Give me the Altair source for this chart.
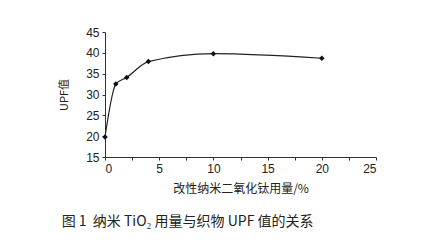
import altair as alt
import pandas as pd

dose = [0, 1, 2, 4, 10, 20]
upf = [19.8, 32.5, 34.1, 37.9, 39.8, 38.7]
x_ticks = [0, 2.5, 5, 7.5, 10, 12.5, 15, 17.5, 20, 22.5, 25]
y_ticks = [15, 20, 25, 30, 35, 40, 45]

df = pd.DataFrame({"dose": dose, "upf": upf})

xs = alt.Scale(domain=[0, 25], nice=False)
ys = alt.Scale(domain=[15, 45], nice=False, zero=False)

xax = alt.Axis(values=x_ticks, title="改性纳米二氧化钛用量/%", grid=False,
               labelExpr="datum.value % 5 == 0 ? datum.label : ''",
               tickSize=3, labelFontSize=12, titleFontSize=12, titleFontWeight="normal",
               labelColor="#222", titleColor="#222", domainColor="#333", tickColor="#333",
               labelFont="Liberation Sans", titleFont="Noto Sans CJK SC", titlePadding=9,
               labelPadding=3, labelOverlap=False)
yax = alt.Axis(values=y_ticks, title="UPF值", grid=False,
               tickSize=3, labelFontSize=12, titleFontSize=11, titleFontWeight="normal",
               labelColor="#222", titleColor="#222", domainColor="#333", tickColor="#333",
               labelFont="Liberation Sans", titleFont="Noto Sans CJK SC", titlePadding=16,
               labelPadding=3, labelOverlap=False)

base = alt.Chart(df).encode(
    x=alt.X("dose:Q", scale=xs, axis=xax),
    y=alt.Y("upf:Q", scale=ys, axis=yax),
)
line = base.mark_line(color="#222", strokeWidth=1.2, interpolate="monotone")
pts = base.mark_point(shape="diamond", filled=True, color="#111", size=30, opacity=1)

chart = (line + pts).properties(
    width=271, height=125,
    background="white",
    padding={"left": 105, "top": 32, "right": 60, "bottom": 83},
    autosize=alt.AutoSizeParams(type="none"),
    title=alt.TitleParams(text="图\u00a01\u00a0\u00a0纳米\u00a0TiO₂\u00a0用量与织物\u00a0UPF\u00a0值的关系", orient="bottom",
                          anchor="start", dx=3, offset=21, fontSize=14,
                          font="Noto Sans CJK SC", fontWeight="normal", color="#222"),
).configure_view(stroke=None)

chart.save("out.html", embed_options={"renderer": "svg", "actions": False})
